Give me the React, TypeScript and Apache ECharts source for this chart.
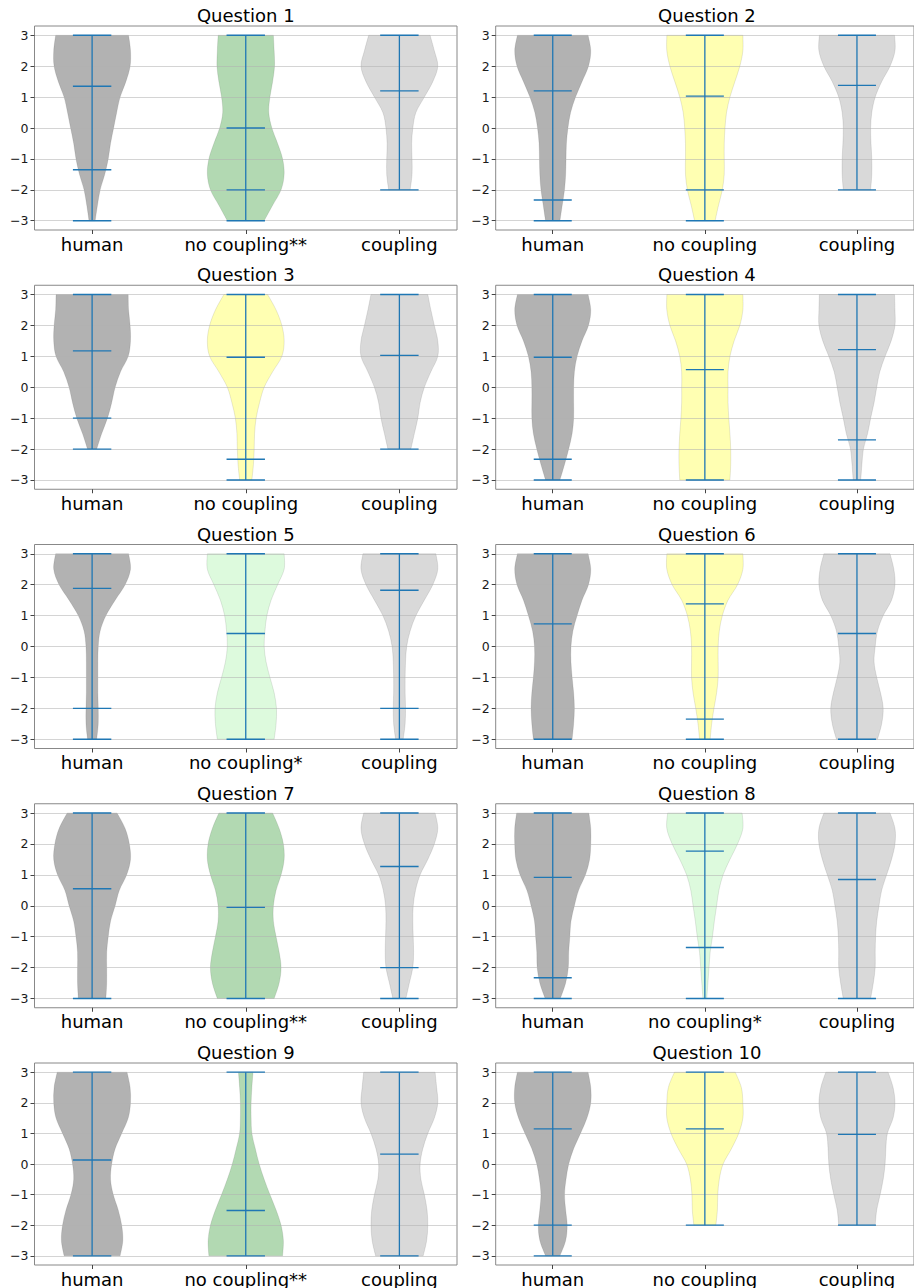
import React, { useEffect, useRef } from "react";
import * as echarts from "echarts";

// y levels (bottom to top) at which the violin half-widths were read
const levels = [-3, -2.5, -2, -1.5, -1, -0.5, 0, 0.5, 1, 1.5, 2, 2.5, 3];
const yTicks = [-3, -2, -1, 0, 1, 2, 3];
const questionTitles = [
  "Question 1", "Question 2", "Question 3", "Question 4", "Question 5",
  "Question 6", "Question 7", "Question 8", "Question 9", "Question 10",
];
const noCouplingLabels = [
  "no coupling**", "no coupling", "no coupling", "no coupling", "no coupling*",
  "no coupling", "no coupling**", "no coupling*", "no coupling**", "no coupling",
];
// significance level of the "no coupling" group, drives its colour
const significance = ["**", "", "", "", "*", "", "**", "*", "**", ""];

// relative half-widths (1 = widest) per violin: [human, no coupling, coupling]
const widthsQ1 = [
  [0.08, 0.14, 0.21, 0.33, 0.42, 0.48, 0.56, 0.64, 0.73, 0.88, 0.99, 1.0, 0.95],
  [0.48, 0.7, 0.92, 1.0, 0.96, 0.83, 0.68, 0.6, 0.63, 0.7, 0.75, 0.74, 0.72],
  [null, null, 0.28, 0.33, 0.33, 0.32, 0.35, 0.43, 0.65, 0.87, 1.0, 0.91, 0.8],
];
const widthsQ2 = [
  [0.19, 0.25, 0.31, 0.34, 0.35, 0.36, 0.4, 0.47, 0.6, 0.77, 0.94, 1.0, 0.93],
  [0.27, 0.36, 0.46, 0.51, 0.51, 0.51, 0.53, 0.57, 0.66, 0.79, 0.92, 1.0, 1.0],
  [null, null, 0.36, 0.39, 0.39, 0.37, 0.36, 0.39, 0.48, 0.65, 0.87, 1.0, 0.99],
];
const widthsQ3 = [
  [null, null, 0.12, 0.25, 0.4, 0.51, 0.6, 0.74, 0.94, 1.0, 0.99, 0.95, 0.94],
  [0.16, 0.2, 0.22, 0.23, 0.27, 0.36, 0.48, 0.7, 0.94, 1.0, 0.94, 0.79, 0.57],
  [null, null, 0.3, 0.39, 0.48, 0.54, 0.65, 0.82, 1.0, 1.0, 0.91, 0.82, 0.74],
];
const widthsQ4 = [
  [0.19, 0.31, 0.42, 0.51, 0.55, 0.55, 0.55, 0.57, 0.64, 0.77, 0.94, 1.0, 0.93],
  [0.66, 0.68, 0.68, 0.66, 0.63, 0.61, 0.61, 0.61, 0.66, 0.77, 0.92, 1.0, 1.0],
  [0.1, 0.13, 0.17, 0.28, 0.36, 0.45, 0.52, 0.6, 0.74, 0.9, 1.0, 1.0, 0.99],
];
const widthsQ5 = [
  [0.12, 0.16, 0.16, 0.15, 0.15, 0.15, 0.16, 0.21, 0.36, 0.6, 0.86, 1.0, 0.95],
  [0.74, 0.79, 0.8, 0.74, 0.63, 0.53, 0.48, 0.5, 0.55, 0.66, 0.83, 1.0, 1.0],
  [0.1, 0.15, 0.16, 0.15, 0.15, 0.16, 0.19, 0.28, 0.43, 0.65, 0.87, 1.0, 0.95],
];
const widthsQ6 = [
  [0.51, 0.55, 0.57, 0.55, 0.51, 0.48, 0.48, 0.53, 0.64, 0.77, 0.94, 1.0, 0.93],
  [0.14, 0.18, 0.24, 0.31, 0.35, 0.35, 0.35, 0.38, 0.46, 0.61, 0.86, 1.0, 1.0],
  [0.54, 0.65, 0.69, 0.62, 0.52, 0.45, 0.48, 0.54, 0.69, 0.91, 1.0, 0.97, 0.87],
];
const widthsQ7 = [
  [0.36, 0.38, 0.38, 0.38, 0.42, 0.48, 0.6, 0.71, 0.9, 1.0, 0.97, 0.86, 0.65],
  [0.74, 0.87, 0.92, 0.87, 0.79, 0.72, 0.72, 0.79, 0.92, 1.0, 0.98, 0.87, 0.7],
  [0.17, 0.26, 0.35, 0.37, 0.36, 0.35, 0.36, 0.42, 0.54, 0.74, 0.91, 1.0, 0.93],
];
const widthsQ8 = [
  [0.2, 0.34, 0.41, 0.42, 0.45, 0.48, 0.57, 0.68, 0.86, 0.97, 1.0, 1.0, 0.95],
  [0.05, 0.08, 0.11, 0.14, 0.2, 0.25, 0.31, 0.37, 0.48, 0.66, 0.86, 1.0, 0.98],
  [0.36, 0.43, 0.48, 0.48, 0.49, 0.52, 0.58, 0.65, 0.78, 0.91, 1.0, 1.0, 0.87],
];
const widthsQ9 = [
  [0.73, 0.8, 0.77, 0.68, 0.55, 0.48, 0.51, 0.6, 0.77, 0.94, 1.0, 0.99, 0.91],
  [0.96, 0.98, 0.92, 0.79, 0.63, 0.48, 0.35, 0.25, 0.16, 0.14, 0.14, 0.16, 0.19],
  [0.62, 0.71, 0.74, 0.72, 0.65, 0.56, 0.54, 0.61, 0.74, 0.91, 1.0, 0.97, 0.93],
];
const widthsQ10 = [
  [0.19, 0.34, 0.38, 0.34, 0.31, 0.35, 0.42, 0.55, 0.73, 0.9, 1.0, 1.0, 0.93],
  [null, null, 0.29, 0.33, 0.34, 0.38, 0.48, 0.7, 0.89, 1.0, 1.0, 0.96, 0.8],
  [null, null, 0.48, 0.52, 0.61, 0.69, 0.74, 0.76, 0.8, 0.95, 1.0, 0.95, 0.82],
];

// horizontal marker values (max, inner statistics, min) per violin
const linesQ1 = [[3, 1.35, -1.35, -3], [3, 0, -2, -3], [3, 1.2, -2]];
const linesQ2 = [[3, 1.2, -2.33, -3], [3, 1.03, -2, -3], [3, 1.38, -2]];
const linesQ3 = [[3, 1.18, -1, -2], [3, 0.97, -2.33, -3], [3, 1.03, -2]];
const linesQ4 = [[3, 0.97, -2.33, -3], [3, 0.57, -3], [3, 1.22, -1.7, -3]];
const linesQ5 = [[3, 1.88, -2, -3], [3, 0.42, -3], [3, 1.82, -2, -3]];
const linesQ6 = [[3, 0.73, -3], [3, 1.38, -2.35, -3], [3, 0.42, -3]];
const linesQ7 = [[3, 0.55, -3], [3, -0.05, -3], [3, 1.27, -2, -3]];
const linesQ8 = [[3, 0.92, -2.33, -3], [3, 1.77, -1.35, -3], [3, 0.85, -3]];
const linesQ9 = [[3, 0.13, -3], [3, -1.52, -3], [3, 0.32, -3]];
const linesQ10 = [[3, 1.15, -2, -3], [3, 1.15, -2], [3, 0.97, -2]];

const allWidths = [widthsQ1, widthsQ2, widthsQ3, widthsQ4, widthsQ5, widthsQ6, widthsQ7, widthsQ8, widthsQ9, widthsQ10];
const allLines = [linesQ1, linesQ2, linesQ3, linesQ4, linesQ5, linesQ6, linesQ7, linesQ8, linesQ9, linesQ10];

const HALF = 0.25; // violin max half width in x units
const BAR = 0.125; // half length of statistic bars
const FONT = '"DejaVu Sans", "Liberation Sans", sans-serif';
const BLUE = "#1f77b4";

function violinFill(q: number, i: number): string {
  if (i === 0) return "rgba(0,0,0,0.3)";
  if (i === 2) return "rgba(128,128,128,0.3)";
  const s = significance[q];
  if (s === "**") return "rgba(0,128,0,0.3)";
  if (s === "*") return "rgba(144,238,144,0.3)";
  return "rgba(255,255,0,0.3)";
}

function splinePath(pts: number[][]): string {
  let d = "";
  for (let k = 0; k < pts.length - 1; k++) {
    const p0 = pts[Math.max(k - 1, 0)];
    const p1 = pts[k];
    const p2 = pts[k + 1];
    const p3 = pts[Math.min(k + 2, pts.length - 1)];
    const c1x = p1[0] + (p2[0] - p0[0]) / 6;
    const c1y = p1[1] + (p2[1] - p0[1]) / 6;
    const c2x = p2[0] - (p3[0] - p1[0]) / 6;
    const c2y = p2[1] - (p3[1] - p1[1]) / 6;
    d += ` C ${c1x} ${c1y} ${c2x} ${c2y} ${p2[0]} ${p2[1]}`;
  }
  return d;
}

function buildOption() {
  const grids: any[] = [];
  const xAxes: any[] = [];
  const yAxes: any[] = [];
  const series: any[] = [];
  const texts: any[] = [];
  const plotW = 422.5;
  const plotH = 204;
  for (let q = 0; q < 10; q++) {
    const col = q % 2;
    const row = Math.floor(q / 2);
    const left = col === 0 ? 34.5 : 495.7;
    const top = 26 + row * 259.25;
    const labels = ["human", noCouplingLabels[q], "coupling"];
    grids.push({
      left, top, width: plotW, height: plotH,
      show: true, borderColor: "#888", borderWidth: 1, backgroundColor: "transparent",
    });
    xAxes.push({
      type: "value", gridIndex: q, min: 0.625, max: 3.375, position: "bottom",
      splitLine: { show: false },
      axisLine: { show: false, onZero: false },
      axisTick: { show: true, customValues: [1, 2, 3], length: 4, lineStyle: { color: "#444" } },
      axisLabel: {
        customValues: [1, 2, 3],
        formatter: (v: number) => labels[Math.round(v) - 1],
        fontSize: 18, fontFamily: FONT, color: "#000", margin: 5,
      },
    });
    yAxes.push({
      type: "value", gridIndex: q, min: -3.3, max: 3.3, minInterval: 1, maxInterval: 1, z: 3,
      position: "left",
      axisLine: { show: false, onZero: false },
      axisTick: { show: true, customValues: yTicks, length: 4, lineStyle: { color: "#444" } },
      axisLabel: {
        customValues: yTicks,
        formatter: (v: number) => (v < 0 ? "\u2212" + Math.abs(v) : String(v)),
        fontSize: 12.5, fontFamily: FONT, color: "#1a1a1a", margin: 6,
      },
      splitLine: { show: true, lineStyle: { color: "#b0b0b0", opacity: 0.55, width: 1 } },
    });
    texts.push({
      type: "text", x: left + plotW / 2, y: top - 10.5, z: 10,
      style: { text: questionTitles[q], font: `18px ${FONT}`, fill: "#000", align: "center", verticalAlign: "middle" },
    });
    const widths = allWidths[q];
    const lines = allLines[q];
    series.push({
      type: "custom", xAxisIndex: q, yAxisIndex: q, z: 2, silent: true, clip: false,
      data: labels.map((_, i) => [i + 1, 0]),
      encode: { x: 0, y: 1 },
      renderItem: (params: any, api: any) => {
        const i = params.dataIndex;
        const xc = api.value(0);
        const w = widths[i];
        const right: number[][] = [];
        const leftPts: number[][] = [];
        levels.forEach((lv, k) => {
          const v = w[k];
          if (v == null) return;
          right.push(api.coord([xc + v * HALF, lv]));
          leftPts.push(api.coord([xc - v * HALF, lv]));
        });
        leftPts.reverse();
        const d =
          `M ${right[0][0]} ${right[0][1]}` + splinePath(right) +
          ` L ${leftPts[0][0]} ${leftPts[0][1]}` + splinePath(leftPts) + " Z";
        return {
          type: "path",
          shape: { pathData: d },
          style: { fill: violinFill(q, i), stroke: "rgba(0,0,0,0.12)", lineWidth: 0.8 },
        };
      },
    });
    series.push({
      type: "custom", xAxisIndex: q, yAxisIndex: q, z: 4, silent: true, clip: false,
      data: labels.map((_, i) => [i + 1, 0]),
      encode: { x: 0, y: 1 },
      renderItem: (params: any, api: any) => {
        const i = params.dataIndex;
        const xc = api.value(0);
        const vals = lines[i];
        const hi = Math.max(...vals);
        const lo = Math.min(...vals);
        const children: any[] = [];
        const a = api.coord([xc, hi]);
        const b = api.coord([xc, lo]);
        children.push({
          type: "line", shape: { x1: a[0], y1: a[1], x2: b[0], y2: b[1] },
          style: { stroke: BLUE, lineWidth: 1.3 },
        });
        vals.forEach((v: number) => {
          const p1 = api.coord([xc - BAR, v]);
          const p2 = api.coord([xc + BAR, v]);
          children.push({
            type: "line", shape: { x1: p1[0], y1: p1[1], x2: p2[0], y2: p2[1] },
            style: { stroke: BLUE, lineWidth: 1.3 },
          });
        });
        return { type: "group", children };
      },
    });
  }
  return {
    animation: false,
    backgroundColor: "#ffffff",
    grid: grids,
    xAxis: xAxes,
    yAxis: yAxes,
    series,
    graphic: { elements: texts },
  };
}

export default function App() {
  const ref = useRef<HTMLDivElement>(null);
  useEffect(() => {
    if (!ref.current) return;
    const chart = echarts.init(ref.current, null, { renderer: "svg" });
    chart.setOption(buildOption() as any);
    return () => chart.dispose();
  }, []);
  return (
    <div
      ref={ref}
      style={{ position: "absolute", left: 0, top: 0, width: 914, height: 1288, background: "#fff" }}
    />
  );
}
